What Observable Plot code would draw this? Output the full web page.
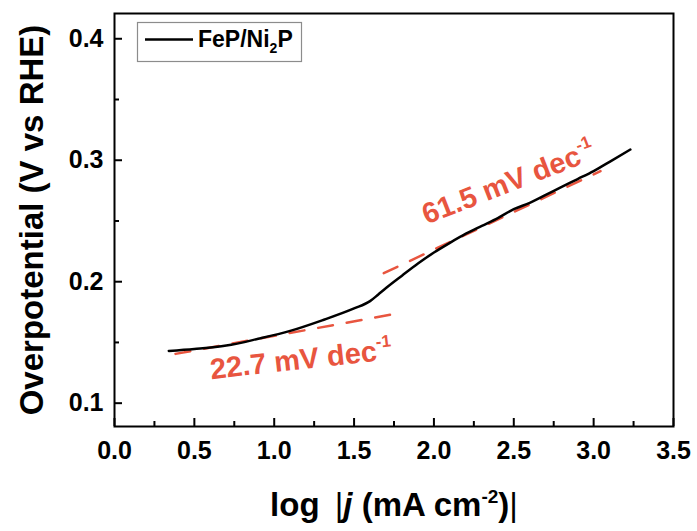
<!DOCTYPE html>
<html>
<head>
<meta charset="utf-8">
<script src="https://cdn.jsdelivr.net/npm/d3@7"></script>
<script src="https://cdn.jsdelivr.net/npm/@observablehq/plot@0.6"></script>
<style>
  html, body { margin: 0; padding: 0; background: #fff; }
  #chart svg { display: block; }
</style>
</head>
<body>
<div id="chart"></div>
<script>
// ---- data ----
const logJ = [0.34, 0.5, 0.7, 0.9, 1.1, 1.3, 1.5, 1.6, 1.65, 1.7, 1.8, 1.9, 2.0, 2.1, 2.2, 2.3, 2.4, 2.5, 2.6, 2.7, 2.8, 2.9, 3.0, 3.1, 3.23];
const eta  = [0.1430, 0.1446, 0.1474, 0.1530, 0.1595, 0.1682, 0.1780, 0.1840, 0.1893, 0.1948, 0.2050, 0.2150, 0.2240, 0.2320, 0.2395, 0.2460, 0.2524, 0.2597, 0.2649, 0.2714, 0.2780, 0.2845, 0.2911, 0.2987, 0.3088];

const fitLowX = [0.382, 1.760];
const fitLowY = [0.1406, 0.1736];
const fitHighX = [1.686, 3.043];
const fitHighY = [0.2070, 0.2910];

const xMajor = [0, 0.5, 1.0, 1.5, 2.0, 2.5, 3.0, 3.5];
const xMinor = [0.25, 0.75, 1.25, 1.75, 2.25, 2.75, 3.25];
const yMajor = [0.1, 0.2, 0.3, 0.4];
const yMinor = [0.15, 0.25, 0.35];

const seriesName = "FeP/Ni2P";
const annLow = {x: 0.605, y: 0.1198, text: "22.7 mV dec-1", angle: -6.3};
const annHigh = {x: 1.955, y: 0.2470, text: "61.5 mV dec-1", angle: -21.3};

const curve = logJ.map((x, i) => ({x, y: eta[i]}));
const fitLow = fitLowX.map((x, i) => ({x, y: fitLowY[i]}));
const fitHigh = fitHighX.map((x, i) => ({x, y: fitHighY[i]}));

const RED = "#e8553f";
const FONT = "Liberation Sans, Arial, Helvetica, sans-serif";

const chart = Plot.plot({
  width: 697,
  height: 531,
  marginLeft: 114,
  marginRight: 24,
  marginTop: 13,
  marginBottom: 105,
  style: {fontFamily: FONT, fontWeight: "bold", background: "#fff"},
  x: {domain: [0, 3.5]},
  y: {domain: [0.0808, 0.4208]},
  marks: [
    Plot.axisX({ticks: xMinor, tickSize: -5, tickFormat: () => "", strokeWidth: 2, label: null}),
    Plot.axisY({ticks: yMinor, tickSize: -5, tickFormat: () => "", strokeWidth: 2, label: null}),
    Plot.axisX({ticks: xMajor, tickSize: -8, tickPadding: 23, tickFormat: d3.format(".1f"), fontSize: 25, strokeWidth: 2, label: null}),
    Plot.axisY({ticks: yMajor, tickSize: -8, tickPadding: 19, tickFormat: d3.format(".1f"), fontSize: 25, strokeWidth: 2, label: null}),
    Plot.line(fitLow, {x: "x", y: "y", stroke: RED, strokeWidth: 2.5, strokeDasharray: "15,14"}),
    Plot.line(fitHigh, {x: "x", y: "y", stroke: RED, strokeWidth: 2.5, strokeDasharray: "15,14"}),
    Plot.line(curve, {x: "x", y: "y", stroke: "black", strokeWidth: 2.5, curve: "monotone-x"}),
    Plot.text([annLow], {x: "x", y: "y", text: "text", rotate: annLow.angle, textAnchor: "start", lineAnchor: "bottom", fill: RED, fontSize: 29}),
    Plot.text([annHigh], {x: "x", y: "y", text: "text", rotate: annHigh.angle, textAnchor: "start", lineAnchor: "bottom", fill: RED, fontSize: 29}),
    Plot.text(["Overpotential (V vs RHE)"], {frameAnchor: "left", text: d => d, rotate: -90, dx: -72, lineAnchor: "bottom", textAnchor: "middle", fontSize: 33, fill: "black"}),
    Plot.text(["XLABEL"], {frameAnchor: "bottom", text: d => d, dy: 89, lineAnchor: "bottom", textAnchor: "middle", fontSize: 33, fill: "black"}),
    Plot.frame({stroke: "black", strokeWidth: 2})
  ]
});

document.getElementById("chart").appendChild(chart);

// ---- rich text (superscripts, italics) ----
const svg = d3.select(chart);
svg.selectAll("text").each(function() {
  const t = d3.select(this);
  const s = this.textContent;
  if (s.endsWith("dec-1")) {
    t.text(null);
    t.append("tspan").text(s.slice(0, -2));
    t.append("tspan").attr("dy", -13).attr("font-size", 17).text("-1");
  } else if (s === "XLABEL") {
    t.text(null);
    t.append("tspan").text("log ");
    t.append("tspan").attr("dx", 6).attr("font-weight", "normal").text("|");
    t.append("tspan").attr("font-style", "italic").text("j");
    t.append("tspan").text(" (mA cm");
    t.append("tspan").attr("dy", -13).attr("font-size", 19).text("-2");
    t.append("tspan").attr("dy", 13).text(")");
    t.append("tspan").attr("font-weight", "normal").text("|");
  }
});

// ---- legend ----
const lg = svg.append("g").attr("font-family", FONT).attr("font-weight", "bold").attr("text-anchor", "start");
lg.append("rect").attr("x", 137.5).attr("y", 22.5).attr("width", 164).attr("height", 39)
  .attr("fill", "white").attr("stroke", "#8c8c8c").attr("stroke-width", 1.2);
lg.append("line").attr("x1", 145).attr("x2", 193).attr("y1", 39.5).attr("y2", 39.5)
  .attr("stroke", "black").attr("stroke-width", 2.5);
const lt = lg.append("text").attr("x", 198).attr("y", 46.5).attr("font-size", 23).attr("fill", "black").attr("text-anchor", "start");
lt.append("tspan").text(seriesName.slice(0, 6));
lt.append("tspan").attr("dy", 6).attr("font-size", 14).text(seriesName.slice(6, 7));
lt.append("tspan").attr("dy", -6).text(seriesName.slice(7));
</script>
</body>
</html>
